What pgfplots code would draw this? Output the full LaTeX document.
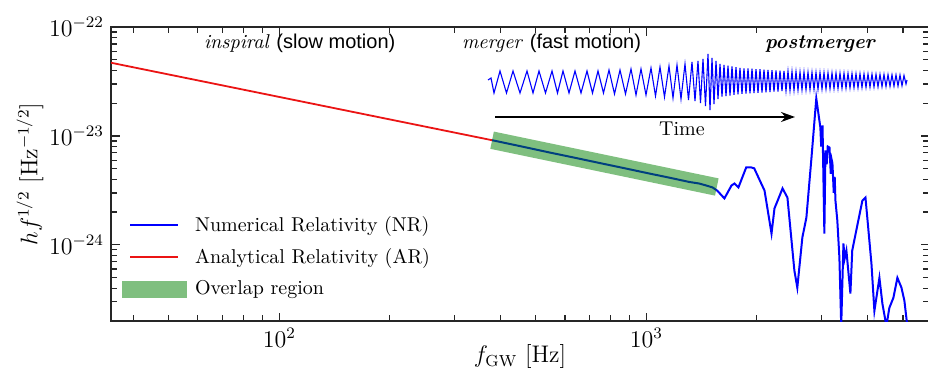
\documentclass[border=0pt]{standalone}
\usepackage{fontspec}
\setsansfont{Liberation Sans}
\usepackage{pgfplots}
\pgfplotsset{compat=1.18}
\usetikzlibrary{arrows.meta}
\definecolor{mplblue}{RGB}{0,0,255}
\definecolor{mplred}{RGB}{235,20,20}
\definecolor{mplgreen}{RGB}{0,128,0}
\begin{document}
\begin{tikzpicture}
\begin{axis}[
  scale only axis, width=409pt, height=147pt,
  at={(0,0)}, anchor=south west,
  xmode=log, ymode=log,
  xmin=34.8, xmax=5890, ymin=2e-25, ymax=1e-22,
  axis line style={line width=0.9pt, black!85},
  every tick/.style={black!85, line width=0.6pt},
  tick label style={font=\large},
  xlabel={$f_{\mathrm{GW}}$ [Hz]},
  ylabel={$h f^{1/2}$ [Hz$^{-1/2}$]},
  label style={font=\large},
  xlabel style={at={(axis description cs:0.5,-0.122)}, anchor=center},
  ylabel style={at={(axis description cs:-0.099,0.5)}, anchor=center},
  legend cell align=left,
  legend style={draw=none, fill=none, at={(axis description cs:0.01345,0.381)}, anchor=north west,
    inner sep=0pt, outer sep=0pt, row sep=0pt, font=\normalsize, nodes={inner sep=0pt}},
]
\addplot[mplblue, line width=1pt,
  legend image code/.code={\draw[mplblue, line width=1pt] (0pt,0pt) -- (24pt,0pt); \path[draw=none,fill=none] (-4pt,-8pt) rectangle (32.5pt,8pt);}]
  coordinates {
(380,9.14e-24) (451,8.09e-24) (545,7.05e-24) (637,6.32e-24) (745,5.65e-24)
(871,5.06e-24) (1019,4.52e-24) (1156,4.14e-24) (1310,3.78e-24) (1393,3.66e-24)
(1456,3.51e-24) (1514,3.37e-24) (1560,3.15e-24) (1632,2.67e-24) (1706,3.51e-24)
(1738,3.66e-24) (1782,3.37e-24) (1871,5.14e-24) (1932,5.14e-24) (1968,5.04e-24)
(2056,3.66e-24) (2099,3.15e-24) (2193,1.27e-24) (2234,2.16e-24) (2350,3.30e-24)
(2423,2.72e-24) (2531,5.81e-25) (2578,4.05e-25) (2661,1.17e-24) (2729,1.78e-24)
(2818,6.34e-24) (2904,2.21e-23) (2979,1.20e-23) (2995,8.0e-24) (3020,1.25e-23)
(3055,1.27e-24) (3076,7.36e-24) (3100,5.5e-24) (3120,8.0e-24) (3155,7.83e-24)
(3180,4.5e-24) (3200,6.0e-24) (3214,5.58e-24) (3240,3.0e-24) (3260,4.2e-24)
(3275,2.55e-24) (3314,1.67e-24) (3357,7.63e-25) (3396,1.8e-25) (3443,1.03e-24)
(3470,7.5e-25) (3508,8.87e-25) (3597,3.57e-25) (3639,8.87e-25) (3733,1.36e-24)
(3878,2.55e-24) (3954,2.72e-24) (4105,6.71e-25) (4181,2.48e-25) (4315,4.99e-25)
(4397,2.88e-25) (4508,1.8e-25) (4592,2.64e-25) (4710,3.27e-25) (4830,4.99e-25)
(4955,4.05e-25) (5047,3.07e-25) (5140,1.8e-25)
  };
\addlegendentry{Numerical Relativity (NR)}
\addplot[mplred, line width=0.9pt,
  legend image code/.code={\draw[mplred, line width=0.9pt] (0pt,0pt) -- (24pt,0pt); \path[draw=none,fill=none] (-4pt,-8pt) rectangle (32.5pt,8pt);}]
  coordinates {(34.8,4.70e-23) (380,9.14e-24)};
\addlegendentry{Analytical Relativity (AR)}
\addplot[mplgreen, opacity=0.5, line width=8.8pt, line cap=butt,
  legend image code/.code={\path[draw=none, fill=mplgreen, fill opacity=0.5] (-4pt,-4.25pt) rectangle (28.5pt,4.25pt); \path[draw=none,fill=none] (-4pt,-8pt) rectangle (32.5pt,8pt);}]
  coordinates {(380,9.14e-24) (1556,3.40e-24)};
\addlegendentry{Overlap region}
\end{axis}
\begin{axis}[
  scale only axis, width=409pt, height=147pt,
  at={(0,0)}, anchor=south west, hide axis, clip=false,
  xmin=111, xmax=929, ymin=-321, ymax=-27,
]
\addplot[mplblue, line width=0.55pt] coordinates {
(488,-80) (491,-78) (494,-93) (500,-71) (506.5,-93) (513,-71) (520,-93) (527,-71)
(533,-93) (539,-71) (545.5,-93) (552,-71) (557.5,-93) (563,-71) (569,-93) (575,-71)
(581,-93) (587,-71) (592.5,-93) (598,-71) (603.5,-93) (609,-70) (614.5,-94) (620,-70)
(625.5,-94) (631,-69) (636,-95) (641,-69) (646,-95) (651,-68) (655.5,-96) (660,-67)
(664.5,-97) (669,-66) (673,-98) (677,-65) (681,-99) (685,-64) (688.5,-100) (692,-62)
(695,-101) (698,-61) (700.5,-103) (703,-59) (705.5,-106) (708,-54) (710,-110) (712,-58)
(714,-104) (716,-61) (718,-99)
(720,-64) (722,-96.7) (724,-64.8) (726,-96.1) (728,-65.6) (730,-95.5) (732,-66.4) (734,-94.9)
(736,-67.2) (738,-94.3) (740,-68) (742,-93.9) (744,-68.3) (746,-93.6) (748,-68.5) (750,-93.3)
(752,-68.8) (754,-93.1) (756,-69.1) (758,-92.8) (760,-69.3) (762,-92.5) (764,-69.6) (766,-92.3)
(768,-69.9) (770,-92) (772,-70.1) (774,-91.7) (776,-70.4) (778,-91.5) (780,-70.7) (782,-91.2)
(784,-70.9) (786,-90.9) (788,-71.2) (790,-90.7) (792,-71.5) (794,-90.4) (796,-71.7) (798,-90.1)
(800,-72) (802,-89.9) (804,-72.1) (806,-89.8) (808,-72.2) (810,-89.6) (812,-72.4) (814,-89.4)
(816,-72.5) (818,-89.3) (820,-72.6) (822,-89.1) (824,-72.7) (826,-89) (828,-72.8) (830,-88.8)
(832,-73) (834,-88.6) (836,-73.1) (838,-88.5) (840,-73.2) (842,-88.3) (844,-73.3) (846,-88.2)
(848,-73.4) (850,-88) (852,-73.6) (854,-87.8) (856,-73.7) (858,-87.7) (860,-73.8) (862,-87.5)
(864,-73.9) (866,-87.4) (868,-74) (870,-87.2) (872,-74.2) (874,-87) (876,-74.3) (878,-86.9)
(880,-74.4) (882,-86.7) (884,-74.5) (886,-86.6) (888,-74.6) (890,-86.4) (892,-74.8) (894,-86.2)
(896,-74.9) (898,-86.1) (900,-75) (902,-85.8) (904,-75.5) (906,-84) (907,-80)
};
\draw[black, line width=1pt, -{Stealth[length=7pt,width=5pt]}] (axis cs:495,-117) -- (axis cs:795,-117);
\node[font=\normalsize] at (axis cs:682,-129) {Time};
\node[anchor=base west, font=\normalsize] at (axis cs:197,-49) {\textit{inspiral} {\sffamily (slow motion)}};
\node[anchor=base west, font=\normalsize] at (axis cs:455,-49) {\textit{merger} {\sffamily (fast motion)}};
\node[anchor=base west, font=\normalsize] at (axis cs:758,-49) {\bfseries\itshape postmerger};
\end{axis}
\pgfresetboundingbox
\path[use as bounding box] (-55.5pt,-27pt) rectangle (408.5pt,160.5pt);
\end{tikzpicture}
\end{document}
